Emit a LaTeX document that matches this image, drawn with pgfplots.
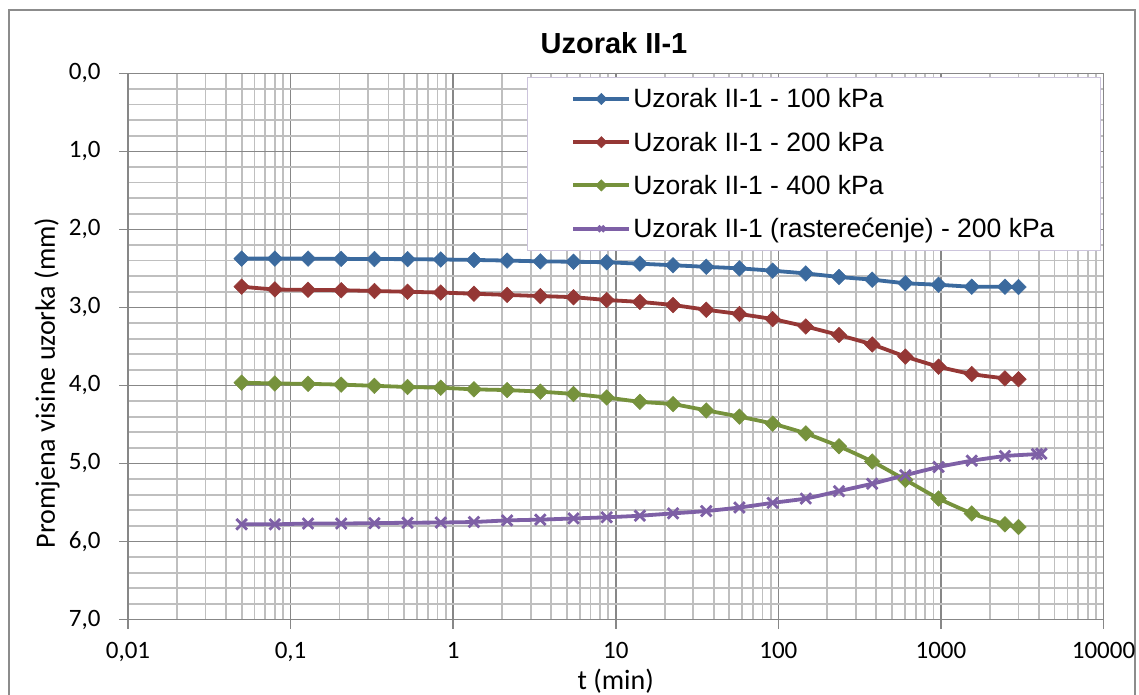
\documentclass[border=0pt]{standalone}
\usepackage{fontspec}
\setmainfont{Carlito}
\newfontfamily\arial{Liberation Sans}
\usepackage{pgfplots}
\pgfplotsset{compat=1.18}
\definecolor{sblue}{HTML}{3B6A9E}
\definecolor{sred}{HTML}{953735}
\definecolor{sgreen}{HTML}{76923C}
\definecolor{spurple}{HTML}{7E60A6}
\definecolor{majgrid}{HTML}{878787}
\definecolor{mingrid}{HTML}{BFBFBF}
\definecolor{legborder}{HTML}{CCC4DC}
\definecolor{framegray}{HTML}{8C8C8C}

\pgfplotstableread{
x y
0.05 2.375
0.08 2.375
0.128 2.375
0.2048 2.378
0.32768 2.38
0.524288 2.382
0.838861 2.386
1.342177 2.392
2.147484 2.40
3.435974 2.41
5.497558 2.415
8.796093 2.422
14.07375 2.44
22.5180 2.46
36.0288 2.48
57.6461 2.50
92.2337 2.53
147.574 2.565
236.118 2.61
377.789 2.645
604.463 2.69
967.140 2.71
1547.42 2.735
2475.88 2.735
3000 2.74
}\blue

\pgfplotstableread{
x y
0.05 2.735
0.08 2.77
0.128 2.775
0.2048 2.78
0.32768 2.79
0.524288 2.80
0.838861 2.81
1.342177 2.825
2.147484 2.84
3.435974 2.855
5.497558 2.87
8.796093 2.905
14.07375 2.93
22.5180 2.97
36.0288 3.03
57.6461 3.085
92.2337 3.15
147.574 3.245
236.118 3.355
377.789 3.475
604.463 3.63
967.140 3.76
1547.42 3.855
2475.88 3.91
3000 3.92
}\red

\pgfplotstableread{
x y
0.05 3.965
0.08 3.975
0.128 3.98
0.2048 3.99
0.32768 4.005
0.524288 4.02
0.838861 4.03
1.342177 4.05
2.147484 4.06
3.435974 4.08
5.497558 4.11
8.796093 4.155
14.07375 4.21
22.5180 4.24
36.0288 4.32
57.6461 4.40
92.2337 4.49
147.574 4.615
236.118 4.78
377.789 4.975
604.463 5.21
967.140 5.45
1547.42 5.64
2475.88 5.78
3000 5.815
}\green

\pgfplotstableread{
x y
0.05 5.78
0.08 5.78
0.128 5.77
0.2048 5.77
0.32768 5.765
0.524288 5.76
0.838861 5.757
1.342177 5.75
2.147484 5.73
3.435974 5.72
5.497558 5.705
8.796093 5.69
14.07375 5.67
22.5180 5.64
36.0288 5.61
57.6461 5.565
92.2337 5.505
147.574 5.45
236.118 5.355
377.789 5.26
604.463 5.15
967.140 5.045
1547.42 4.965
2475.88 4.905
3900 4.88
4150 4.875
}\purple

\begin{document}
\begin{tikzpicture}[x=1pt,y=1pt]
\useasboundingbox (0,0) rectangle (1139,695);
\draw[color=framegray, line width=1.5pt] (9,-20) rectangle (1135,685);
\begin{axis}[
  at={(128pt,75.5pt)}, anchor=south west,
  scale only axis, width=975.5pt, height=546.2pt,
  xmode=log, xmin=0.01, xmax=10000,
  ymin=0, ymax=7, y dir=reverse,
  xtick={0.01,0.1,1,10,100,1000,10000},
  xticklabels={{0,01},{0,1},{1},{10},{100},{1000},{10000}},
  minor xtick={0.02,0.03,0.04,0.05,0.06,0.07,0.08,0.09,
    0.2,0.3,0.4,0.5,0.6,0.7,0.8,0.9,
    2,3,4,5,6,7,8,9,
    20,30,40,50,60,70,80,90,
    200,300,400,500,600,700,800,900,
    2000,3000,4000,5000,6000,7000,8000,9000},
  ytick={0,1,2,3,4,5,6,7},
  yticklabels={{0,0},{1,0},{2,0},{3,0},{4,0},{5,0},{6,0},{7,0}},
  minor y tick num=4,
  grid=both,
  major grid style={color=majgrid, line width=1.6pt},
  minor grid style={color=mingrid, line width=1.8pt},
  axis line style={color=majgrid, line width=1.6pt},
  tick style={color=majgrid, line width=1.6pt},
  tick align=outside,
  major tick length=9pt, minor tick length=0pt,
  xtick pos=bottom, ytick pos=left,
  tick label style={font=\fontsize{25}{30}\selectfont, text=black},
  xticklabel style={yshift=-10pt},
  yticklabel style={xshift=-15pt},
  legend style={at={(rel axis cs:0.9974,0.993)}, anchor=north east,
    draw=legborder, line width=1pt, fill=white,
    inner xsep=44pt, inner ysep=9pt,
    font=\arial\fontsize{26.5}{31}\selectfont,
    row sep=18.5pt,
    nodes={inner sep=2pt}},
  legend cell align=left,
  legend image code/.code={\draw[mark repeat=2,mark phase=2,#1,mark size=4pt]
     plot coordinates {(0pt,0pt) (28pt,0pt) (56pt,0pt)};},
]
\addplot[color=sblue, line width=3.8pt, smooth, tension=0.3, mark=square*, mark size=5.5pt, mark options={rotate=45, line width=0.5pt}] table[x=x,y=y] {\blue};
\addlegendentry{Uzorak II-1 - 100 kPa}
\addplot[color=sred, line width=3.8pt, smooth, tension=0.3, mark=square*, mark size=5.5pt, mark options={rotate=45, line width=0.5pt}] table[x=x,y=y] {\red};
\addlegendentry{Uzorak II-1 - 200 kPa}
\addplot[color=sgreen, line width=3.8pt, smooth, tension=0.3, mark=square*, mark size=5.5pt, mark options={rotate=45, line width=0.5pt}] table[x=x,y=y] {\green};
\addlegendentry{Uzorak II-1 - 400 kPa}
\addplot[color=spurple, line width=3.8pt, smooth, tension=0.3, mark=x, mark size=7.5pt, mark options={line width=2.8pt}] table[x=x,y=y] {\purple};
\addlegendentry{Uzorak II-1 (rastere\'{c}enje) - 200 kPa}
\end{axis}
\node[font=\arial\bfseries\fontsize{29}{34}\selectfont] at (614,652) {Uzorak II-1};
\node[font=\fontsize{28}{33}\selectfont, rotate=90] at (47,312) {Promjena visine uzorka (mm)};
\node[font=\fontsize{28}{33}\selectfont] at (615.7,14) {t (min)};
\end{tikzpicture}
\end{document}
